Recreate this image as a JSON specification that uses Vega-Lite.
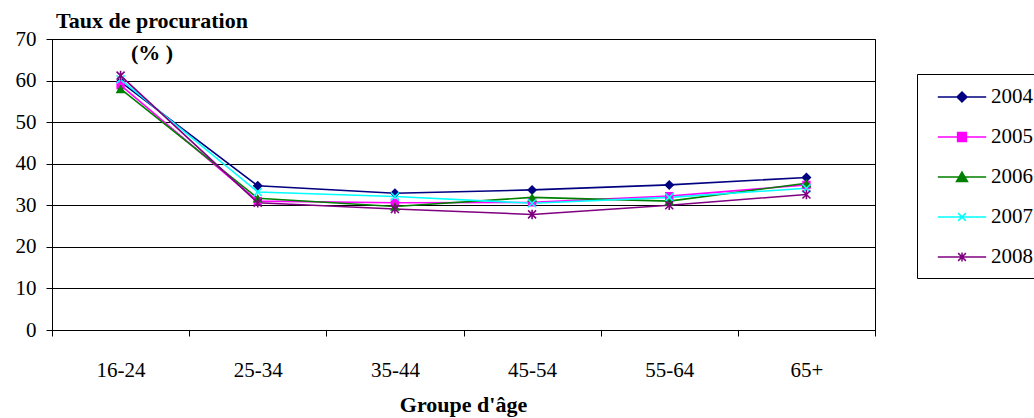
{
  "$schema": "https://vega.github.io/schema/vega-lite/v6.json",
  "width": 823,
  "height": 291,
  "autosize": "none",
  "padding": {"left": 52, "top": 39, "right": 159, "bottom": 88},
  "background": "white",
  "config": {
    "view": {"stroke": "black", "strokeWidth": 1},
    "font": "Liberation Serif",
    "axis": {
      "labelFont": "Liberation Serif", "labelFontSize": 21, "labelColor": "black",
      "titleFont": "Liberation Serif", "titleFontSize": 22, "titleColor": "black", "titleFontWeight": "bold",
      "domainColor": "black", "tickColor": "black", "gridColor": "black", "gridOpacity": 1,
      "domainWidth": 1, "tickWidth": 1, "gridWidth": 1
    },
    "legend": {
      "orient": "none", "legendX": 865, "legendY": 35, "direction": "vertical",
      "strokeColor": "black", "fillColor": "white", "padding": 11,
      "symbolOffset": 22, "labelOffset": 17, "rowPadding": 18,
      "labelFont": "Liberation Serif", "labelFontSize": 21, "labelColor": "black",
      "symbolSize": 484, "symbolStrokeWidth": 1.5, "symbolOpacity": 1
    }
  },
  "data": {
    "values": [
      {"year": "2004", "age": "16-24", "v": 59.7},
      {"year": "2004", "age": "25-34", "v": 34.7},
      {"year": "2004", "age": "35-44", "v": 32.9},
      {"year": "2004", "age": "45-54", "v": 33.7},
      {"year": "2004", "age": "55-64", "v": 34.9},
      {"year": "2004", "age": "65+", "v": 36.7},
      {"year": "2005", "age": "16-24", "v": 58.9},
      {"year": "2005", "age": "25-34", "v": 31.0},
      {"year": "2005", "age": "35-44", "v": 30.6},
      {"year": "2005", "age": "45-54", "v": 30.7},
      {"year": "2005", "age": "55-64", "v": 32.2},
      {"year": "2005", "age": "65+", "v": 34.9},
      {"year": "2006", "age": "16-24", "v": 58.0},
      {"year": "2006", "age": "25-34", "v": 31.7},
      {"year": "2006", "age": "35-44", "v": 29.7},
      {"year": "2006", "age": "45-54", "v": 31.9},
      {"year": "2006", "age": "55-64", "v": 31.0},
      {"year": "2006", "age": "65+", "v": 35.3},
      {"year": "2007", "age": "16-24", "v": 60.3},
      {"year": "2007", "age": "25-34", "v": 33.2},
      {"year": "2007", "age": "35-44", "v": 32.1},
      {"year": "2007", "age": "45-54", "v": 30.5},
      {"year": "2007", "age": "55-64", "v": 31.9},
      {"year": "2007", "age": "65+", "v": 34.1},
      {"year": "2008", "age": "16-24", "v": 61.2},
      {"year": "2008", "age": "25-34", "v": 30.6},
      {"year": "2008", "age": "35-44", "v": 29.1},
      {"year": "2008", "age": "45-54", "v": 27.8},
      {"year": "2008", "age": "55-64", "v": 30.0},
      {"year": "2008", "age": "65+", "v": 32.6}
    ]
  },
  "encoding": {
    "x": {
      "field": "age", "type": "nominal",
      "sort": ["16-24", "25-34", "35-44", "45-54", "55-64", "65+"],
      "scale": {"paddingInner": 0, "paddingOuter": 0},
      "axis": {
        "title": "Groupe d'âge", "labelAngle": 0, "tickBand": "extent", "tickSize": 6,
        "labelPadding": 23, "grid": false,
        "titleX": 411, "titleY": 81, "titleAlign": "center", "titleBaseline": "alphabetic"
      }
    },
    "y": {
      "field": "v", "type": "quantitative",
      "scale": {"domain": [0, 70], "nice": false, "zero": true},
      "axis": {
        "values": [0, 10, 20, 30, 40, 50, 60, 70],
        "grid": true, "tickSize": 6, "labelPadding": 10,
        "title": ["Taux de procuration", "(% )"],
        "titleAngle": 0, "titleX": 99.5, "titleY": -11.5, "titleAlign": "center",
        "titleBaseline": "alphabetic", "titleLineHeight": 31.5
      }
    }
  },
  "layer": [
    {
      "mark": {"type": "point", "filled": true, "opacity": 0, "strokeWidth": 1.5, "size": 484},
      "encoding": {
        "shape": {
          "field": "year", "type": "nominal",
          "scale": {
            "domain": ["2004", "2005", "2006", "2007", "2008"],
            "range": [
              "M-2.2,0L2.2,0M0,-0.45L0.45,0L0,0.45L-0.45,0Z",
              "M-2.2,0L2.2,0M-0.4,-0.4L0.4,-0.4L0.4,0.4L-0.4,0.4Z",
              "M-2.2,0L2.2,0M0,-0.45L0.5,0.42L-0.5,0.42Z",
              "M-2.2,0L2.2,0M-0.35,-0.35L0.35,0.35M-0.35,0.35L0.35,-0.35",
              "M-2.2,0L2.2,0M-0.35,-0.35L0.35,0.35M-0.35,0.35L0.35,-0.35M0,-0.42L0,0.42"
            ]
          },
          "legend": {"title": null, "symbolOpacity": 1}
        },
        "stroke": {
          "field": "year", "type": "nominal",
          "scale": {"domain": ["2004", "2005", "2006", "2007", "2008"], "range": ["#000080", "#FF00FF", "#008000", "#00FFFF", "#800080"]},
          "legend": {"title": null, "symbolOpacity": 1}
        },
        "fill": {
          "field": "year", "type": "nominal",
          "scale": {"domain": ["2004", "2005", "2006", "2007", "2008"], "range": ["#000080", "#FF00FF", "#008000", "transparent", "transparent"]},
          "legend": {"title": null, "symbolOpacity": 1}
        }
      }
    },
    {
      "mark": {"type": "line", "strokeWidth": 1.6},
      "encoding": {
        "color": {
          "field": "year", "type": "nominal",
          "scale": {"domain": ["2004", "2005", "2006", "2007", "2008"], "range": ["#000080", "#FF00FF", "#008000", "#00FFFF", "#800080"]},
          "legend": null
        }
      }
    },
    {
      "transform": [{"filter": {"field": "year", "equal": "2004"}}],
      "mark": {"type": "point", "shape": "diamond", "filled": true, "color": "#000080", "size": 100, "opacity": 1}
    },
    {
      "transform": [{"filter": {"field": "year", "equal": "2005"}}],
      "mark": {"type": "point", "shape": "square", "filled": true, "color": "#FF00FF", "size": 70, "opacity": 1}
    },
    {
      "transform": [{"filter": {"field": "year", "equal": "2006"}}],
      "mark": {"type": "point", "shape": "triangle-up", "filled": true, "color": "#008000", "size": 100, "opacity": 1}
    },
    {
      "transform": [{"filter": {"field": "year", "equal": "2007"}}],
      "mark": {"type": "point", "shape": "M-1,-1L1,1M-1,1L1,-1", "filled": false, "color": "#00FFFF", "strokeWidth": 1.6, "size": 64, "opacity": 1}
    },
    {
      "transform": [{"filter": {"field": "year", "equal": "2008"}}],
      "mark": {"type": "point", "shape": "M-1,-1L1,1M-1,1L1,-1M0,-1.2L0,1.2", "filled": false, "color": "#800080", "strokeWidth": 1.6, "size": 64, "opacity": 1}
    }
  ]
}
